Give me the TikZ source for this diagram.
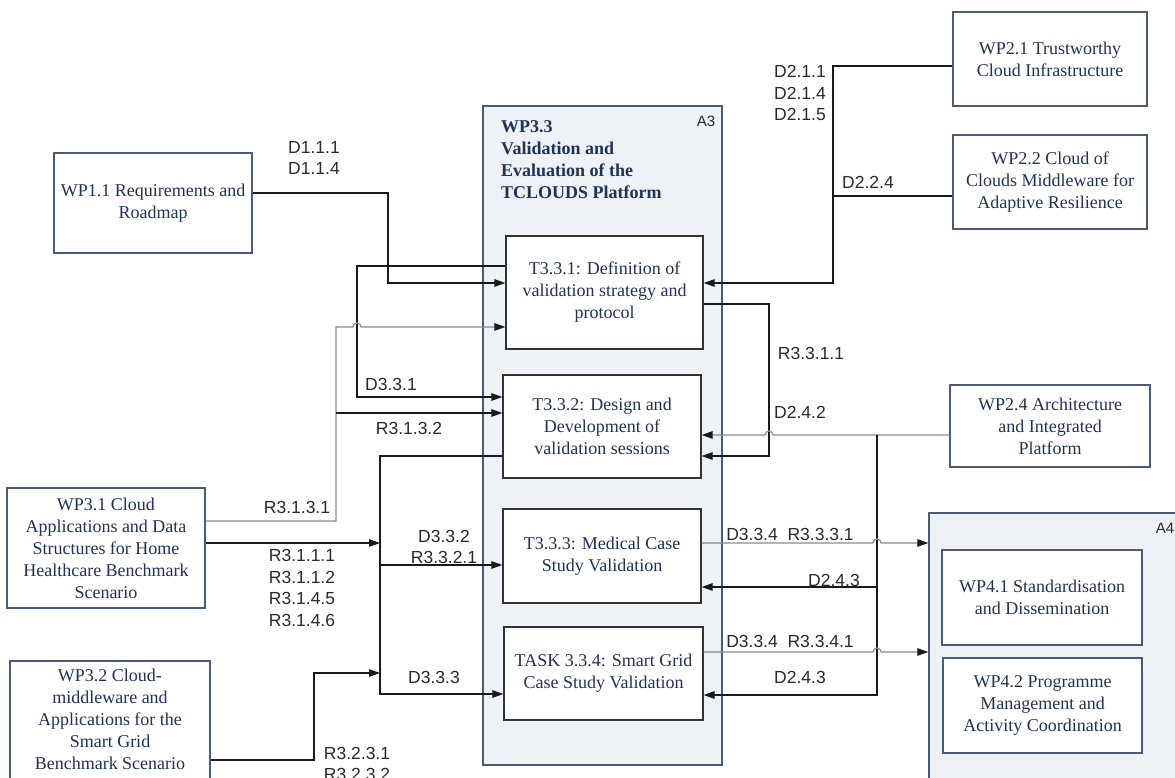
\documentclass[tikz,border=0pt]{standalone}
\usepackage{fontspec}
\setmainfont{Liberation Serif}
\newfontfamily\labfont{Liberation Sans}
\usetikzlibrary{arrows.meta}
\definecolor{boxline}{HTML}{4A5B78}
\definecolor{boxtext}{HTML}{1F3358}
\definecolor{contfill}{HTML}{EEF1F6}
\definecolor{labtext}{HTML}{2A2A2A}
\definecolor{grayline}{HTML}{8A8A8A}
\definecolor{darkline}{HTML}{1A1A1A}
\tikzset{
 wpbox/.style={draw=boxline, line width=1.3pt, fill=white, inner sep=0pt, align=center, text=boxtext, font=\fontsize{18}{22}\selectfont},
 taskbox/.style={wpbox, draw=black!80},
 cont/.style={draw=boxline, line width=1.3pt, fill=contfill, inner sep=0pt},
 conn/.style={draw=darkline, line width=1.2pt},
 gconn/.style={draw=grayline, line width=1.2pt},
 arr/.style={-{Triangle[length=11pt,width=7.5pt,color=darkline]}},
 lab/.style={text=labtext, font=\labfont\fontsize{17.5}{21.5}\selectfont, inner sep=0pt, align=center},
 contlab/.style={text=labtext, font=\labfont\fontsize{15}{18}\selectfont, inner sep=0pt},
}
\begin{document}
\begin{tikzpicture}[x=1pt,y=-1pt]
\useasboundingbox (0,0) rectangle (1175,778);
\clip (0,0) rectangle (1175,778);
% containers
\node[cont, minimum width=239pt, minimum height=659pt] (a3) at (602.5,435.5) {};
\node[cont, minimum width=271pt, minimum height=287pt] (a4) at (1064.5,656.5) {};
\node[contlab] (a3lab) at (706,121) {A3};
\node[contlab] (a4lab) at (1165,528) {A4};
\node[anchor=west, align=left, font=\bfseries\fontsize{18}{22}\selectfont, text=boxtext, inner sep=0pt] (a3title) at (501,160) {WP3.3\\Validation and\\Evaluation of the\\TCLOUDS Platform};
% boxes
\node[wpbox, minimum width=198pt, minimum height=100pt] (wp11) at (153,203) {WP1.1 Requirements and\\Roadmap};
\node[wpbox, minimum width=194pt, minimum height=94pt] (wp21) at (1050,59) {WP2.1 Trustworthy\\Cloud Infrastructure};
\node[wpbox, minimum width=194pt, minimum height=94pt] (wp22) at (1050,182) {WP2.2 Cloud of\\Clouds Middleware for\\Adaptive Resilience};
\node[wpbox, minimum width=200pt, minimum height=82pt] (wp24) at (1050,426) {WP2.4 Architecture\\and Integrated\\Platform};
\node[wpbox, minimum width=198pt, minimum height=120pt] (wp31) at (106,548) {WP3.1 Cloud\\Applications and Data\\Structures for Home\\Healthcare Benchmark\\Scenario};
\node[wpbox, minimum width=200pt, minimum height=139pt] (wp32) at (110,730.5) {};
\node[align=center, text=boxtext, font=\fontsize{18}{22}\selectfont, inner sep=0pt] (wp32t) at (110,719) {WP3.2 Cloud-\\middleware and\\Applications for the\\Smart Grid\\Benchmark Scenario};
\node[wpbox, minimum width=200pt, minimum height=95pt] (wp41) at (1042,597.5) {WP4.1 Standardisation\\and Dissemination};
\node[wpbox, minimum width=199pt, minimum height=95pt] (wp42) at (1042.5,705.5) {WP4.2 Programme\\Management and\\Activity Coordination};
\node[taskbox, minimum width=197pt, minimum height=113pt] (t331) at (604.5,292.5) {T3.3.1: Definition of\\validation strategy and\\protocol};
\node[taskbox, minimum width=198pt, minimum height=103pt] (t332) at (602,426.5) {T3.3.2: Design and\\Development of\\validation sessions};
\node[taskbox, minimum width=198pt, minimum height=94pt] (t333) at (602,556) {T3.3.3: Medical Case\\Study Validation};
\node[taskbox, minimum width=199pt, minimum height=93pt] (t334) at (603.5,673.5) {TASK 3.3.4: Smart Grid\\Case Study Validation};
% left connectors
\draw[conn,arr] (wp11.east |- 0,193) -| (388,283) -- (t331.west |- 0,283);
\draw[conn,arr] (t331.west |- 0,266) -| (357,397) -- (t332.west |- 0,397);
\draw[gconn,arr] (wp31.east |- 0,521) -| (336,327) -- (353,327) arc(180:360:4) -- (t331.west |- 0,327);
\draw[conn,arr] (336,413) -- (t332.west |- 0,413);
\draw[conn,arr] (t332.west |- 0,456) -| (380,694) -- (t334.west |- 0,694);
\draw[conn,arr] (380,565) -- (t333.west |- 0,565);
\draw[conn,arr] (wp31.east |- 0,543) -- (380,543);
\draw[conn,arr] (wp32.east |- 0,760) -| (314,673) -- (380,673);
% right connectors
\draw[conn,arr] (wp21.west |- 0,66) -| (833,283) -- (t331.east |- 0,283);
\draw[conn] (wp22.west |- 0,196) -- (833,196);
\draw[conn,arr] (t331.east |- 0,304) -| (769,456) -- (t332.east |- 0,456);
\draw[gconn,arr] (wp24.west |- 0,435) -- (773,435) arc(0:-180:4) -- (t332.east |- 0,435);
\draw[conn,arr] (877,435) |- (t334.east |- 0,695);
\draw[conn,arr] (877,587) -- (t333.east |- 0,587);
\draw[gconn,arr] (t333.east |- 0,543) -- (873,543) arc(180:360:4) -- (a4.west |- 0,543);
\draw[gconn,arr] (t334.east |- 0,652) -- (873,652) arc(180:360:4) -- (a4.west |- 0,652);
% labels
\node[lab] (l1) at (314,158) {D1.1.1\\D1.1.4};
\node[lab, anchor=east, align=right] (l2) at (826,93) {D2.1.1\\D2.1.4\\D2.1.5};
\node[lab] (l3) at (868,182) {D2.2.4};
\node[lab] (l4) at (391,384) {D3.3.1};
\node[lab] (l5) at (409,428) {R3.1.3.2};
\node[lab] (l6) at (297,507) {R3.1.3.1};
\node[lab] (l7) at (302,588) {R3.1.1.1\\R3.1.1.2\\R3.1.4.5\\R3.1.4.6};
\node[lab] (l8) at (444,547) {D3.3.2\\R3.3.2.1};
\node[lab] (l9) at (434,677) {D3.3.3};
\node[lab] (l10) at (357,764) {R3.2.3.1\\R3.2.3.2};
\node[lab] (l11) at (811,353) {R3.3.1.1};
\node[lab] (l12) at (800,412) {D2.4.2};
\node[lab] (l13) at (790,534) {D3.3.4\ \ R3.3.3.1};
\node[lab] (l14) at (790,641) {D3.3.4\ \ R3.3.4.1};
\node[lab] (l15) at (834,580) {D2.4.3};
\node[lab] (l16) at (800,677) {D2.4.3};
\end{tikzpicture}
\end{document}
